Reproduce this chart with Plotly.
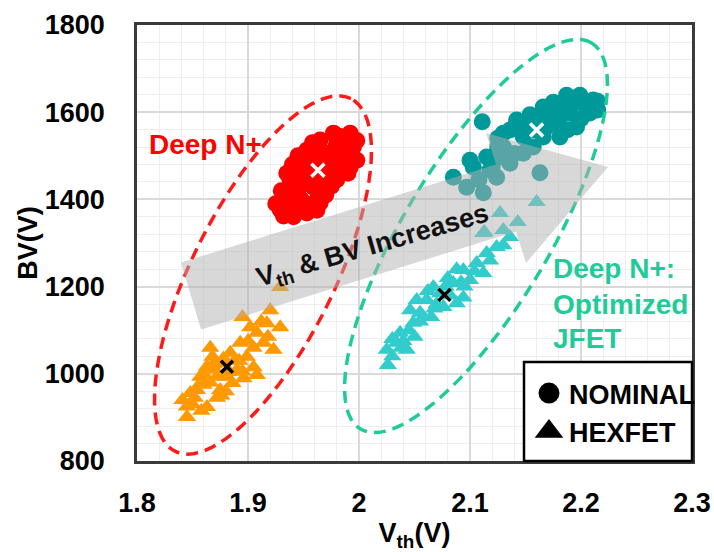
import numpy as np
import plotly.graph_objects as go

# ---------------- data ----------------
red_vth = [1.992,1.977,1.965,1.953,1.998,1.989,1.983,1.944,1.971,1.962,1.935,1.929,1.941,1.953,1.965,1.944,1.950,1.959,1.971,1.980,
           1.992,1.971,1.959,1.938,1.960,1.975,1.985,1.990,1.950,1.945,1.955,1.935,1.970,1.980,1.995,1.965,1.950,1.940,1.925,1.985,
           1.958,1.945,1.935,1.930,1.948,1.962,1.975,1.990,1.982,1.998,1.940,1.955,1.968,1.978,1.932]
red_bv  = [1552,1552,1536,1513,1490,1513,1461,1461,1428,1399,1422,1376,1360,1369,1392,1405,1444,1483,1497,1529,
           1474,1461,1428,1444,1450,1485,1500,1540,1470,1420,1385,1395,1410,1445,1520,1515,1490,1380,1390,1480,
           1530,1500,1460,1420,1400,1375,1430,1460,1545,1535,1480,1440,1490,1515,1362]

orange_vth = [1.929,1.920,1.895,1.929,1.923,1.908,1.877,1.848,1.845,1.863,1.886,1.899,1.908,1.914,1.857,1.868,1.893,1.875,
              1.863,1.890,1.902,1.917,1.841,1.881,1.854,1.872,1.884,1.870,1.860,1.895,1.905,1.850,1.880,1.866,1.888,
              1.852,1.858,1.866,1.878,1.892,1.900,1.912,1.918,1.872,1.845,1.860,1.896,1.905,1.869,1.883,1.857,1.876]
orange_bv  = [1199,1146,1130,1107,1055,997,1025,956,901,924,979,1039,1094,1071,993,1039,1071,963,
              1016,1009,1107,1116,940,993,963,993,1048,1010,975,1005,1060,930,960,1060,1030,
              945,915,980,1035,1030,1075,1120,1085,945,925,1000,990,1015,1022,1004,978,950]

teal_vth = [2.211,2.199,2.187,2.175,2.166,2.154,2.142,2.136,2.181,2.196,2.208,2.190,2.169,2.181,2.157,2.148,2.130,2.111,2.166,
            2.202,2.193,2.115,2.103,2.085,2.097,2.112,2.124,2.136,2.148,2.157,2.163,2.130,2.118,2.127,2.215,2.178,2.160,2.145,
            2.205,2.185,2.170,2.150,2.140,2.175,2.200,2.188,2.160,2.125,2.215,2.100,2.120,2.140,2.108,2.125]
teal_bv  = [1628,1639,1639,1623,1612,1594,1582,1559,1543,1566,1598,1598,1566,1589,1559,1543,1552,1578,1543,
            1621,1621,1497,1474,1451,1428,1415,1451,1483,1506,1520,1461,1520,1467,1497,1605,1610,1580,1570,
            1610,1615,1600,1575,1565,1575,1585,1560,1590,1540,1625,1490,1475,1505,1445,1520]

cyan_vth = [2.026,2.025,2.043,2.037,2.049,2.046,2.061,2.067,2.076,2.088,2.085,2.094,2.100,2.106,2.115,2.124,2.136,2.112,
            2.058,2.034,2.073,2.052,2.112,2.127,2.143,2.130,2.160,2.113,2.040,2.055,2.070,2.080,2.095,2.065,2.030,
            2.045,2.055,2.068,2.082,2.092,2.104,2.118,2.130,2.038,2.050,2.062,2.078,2.094,2.088,2.030]
cyan_bv  = [1020,1055,1055,1094,1117,1146,1169,1199,1153,1162,1208,1238,1215,1254,1277,1291,1314,1231,
            1130,1071,1185,1169,1323,1369,1348,1330,1394,1325,1075,1140,1160,1220,1200,1130,1040,
            1100,1120,1150,1180,1210,1235,1260,1295,1060,1085,1190,1200,1175,1240,1080]

mean_white_vth = [1.963, 2.160]
mean_white_bv = [1467, 1559]
mean_black_vth = [1.881, 2.077]
mean_black_bv = [1016, 1181]

legend_names = ["NOMINAL", "HEXFET"]

# ---------------- layout geometry ----------------
FW, FH = 714, 552
L, T, W, H = 137, 25, 555, 436
FONT = "Liberation Sans, Arial, sans-serif"


def pp(x, y):
    """pixel -> paper coordinates"""
    return (x - L) / W, (T + H - y) / H


def ellipse_path(cx, cy, a, b, deg, n=90):
    th = np.deg2rad(deg)
    pts = []
    for t in np.linspace(0, 2 * np.pi, n):
        x = cx + a * np.cos(th) * np.cos(t) - b * np.sin(th) * np.sin(t)
        y = cy - (a * np.sin(th) * np.cos(t) + b * np.cos(th) * np.sin(t))
        pts.append(pp(x, y))
    return "M " + " L ".join(f"{px:.5f},{py:.5f}" for px, py in pts) + " Z"


def poly_path(points):
    q = [pp(x, y) for x, y in points]
    return "M " + " L ".join(f"{a:.5f},{b:.5f}" for a, b in q) + " Z"


fig = go.Figure()

fig.add_trace(go.Scatter(x=red_vth, y=red_bv, mode="markers", showlegend=False,
                         marker=dict(symbol="circle", size=17, color="#ff0000")))
fig.add_trace(go.Scatter(x=orange_vth, y=orange_bv, mode="markers", showlegend=False,
                         marker=dict(symbol="triangle-up", size=16, color="#ff9900")))
fig.add_trace(go.Scatter(x=teal_vth, y=teal_bv, mode="markers", showlegend=False,
                         marker=dict(symbol="circle", size=17, color="#009999")))
fig.add_trace(go.Scatter(x=cyan_vth, y=cyan_bv, mode="markers", showlegend=False,
                         marker=dict(symbol="triangle-up", size=16, color="#33cccc")))
fig.add_trace(go.Scatter(x=mean_white_vth, y=mean_white_bv, mode="markers", showlegend=False,
                         marker=dict(symbol="x-thin", size=13, line=dict(color="white", width=3.5))))
fig.add_trace(go.Scatter(x=mean_black_vth, y=mean_black_bv, mode="markers", showlegend=False,
                         marker=dict(symbol="x-thin", size=12, line=dict(color="black", width=3.5))))

# legend entries
fig.add_trace(go.Scatter(x=[None], y=[None], mode="markers", name=legend_names[0],
                         marker=dict(symbol="circle", size=16, color="black", line=dict(color="black", width=5))))
fig.add_trace(go.Scatter(x=[None], y=[None], mode="markers", name=legend_names[1],
                         marker=dict(symbol="triangle-up", size=16, color="black", line=dict(color="black", width=5))))

shapes = []
# dashed ellipses
shapes.append(dict(type="path", xref="paper", yref="paper", layer="above",
                   path=ellipse_path(263, 275, 197, 71, 63.5),
                   line=dict(color="#ff1a1a", width=3.5, dash="12px,7px")))
shapes.append(dict(type="path", xref="paper", yref="paper", layer="above",
                   path=ellipse_path(476, 236, 225, 73, 59.1),
                   line=dict(color="#1fcc99", width=3.5, dash="12px,7px")))
# gray arrow
arrow_pts = [(181, 262.5), (496, 164.5), (486, 133), (608, 167), (526, 263), (516, 231.5), (201, 329.5)]
shapes.append(dict(type="path", xref="paper", yref="paper", layer="above",
                   path=poly_path(arrow_pts), fillcolor="rgba(178,178,178,0.5)",
                   line=dict(width=0)))
# legend box
x0, y0 = pp(524, 362)
x1, y1 = pp(692, 461)
shapes.append(dict(type="rect", xref="paper", yref="paper", layer="above",
                   x0=x0, y0=y1, x1=x1, y1=y0, fillcolor="white",
                   line=dict(color="black", width=2.5)))

annotations = []


def ann(text, x, y, color, size, xanchor="left", angle=0):
    px, py = pp(x, y)
    annotations.append(dict(text=text, x=px, y=py, xref="paper", yref="paper",
                            xanchor=xanchor, yanchor="middle", showarrow=False,
                            textangle=angle, font=dict(family=FONT, size=size, color=color)))


ann("<b>Deep N+</b>", 147, 144, "#ff0000", 28)
ann("<b>Deep N+:</b>", 551, 268, "#1fcc99", 28)
ann("<b>Optimized</b>", 551, 304, "#1fcc99", 28)
ann("<b>JFET</b>", 551, 338, "#1fcc99", 28)
ann("<b>V<sub>th</sub> &amp; BV Increases</b>", 373, 247, "#111111", 27, xanchor="center", angle=-16)

lx, ly = pp(529, 369)

fig.update_layout(
    width=FW, height=FH,
    margin=dict(l=L, r=FW - L - W, t=T, b=FH - T - H, autoexpand=False),
    paper_bgcolor="white", plot_bgcolor="white",
    font=dict(family=FONT, color="black"),
    shapes=shapes, annotations=annotations,
    showlegend=True,
    legend=dict(x=lx, y=ly, xanchor="left", yanchor="top", bgcolor="rgba(0,0,0,0)",
                borderwidth=0, font=dict(family=FONT, size=27, color="black", weight="bold"),
                tracegroupgap=0, itemsizing="trace"),
    xaxis=dict(range=[1.8, 2.3], dtick=0.1, tick0=1.8, showgrid=True, gridcolor="#d9d9d9", gridwidth=1.5,
               minor=dict(dtick=0.02, showgrid=True, gridcolor="#eeeeee", gridwidth=1),
               showline=True, mirror=True, linecolor="#3a3a3a", linewidth=2.5, ticks="",
               zeroline=False, ticklabelstandoff=16, automargin=False,
               tickfont=dict(family=FONT, size=27, color="black", weight="bold"),
               title=dict(text="<b>V<sub>th</sub>(V)</b>", standoff=17,
                          font=dict(family=FONT, size=27, color="black"))),
    yaxis=dict(range=[800, 1800], dtick=200, tick0=800, showgrid=True, gridcolor="#d9d9d9", gridwidth=1.5,
               minor=dict(dtick=40, showgrid=True, gridcolor="#eeeeee", gridwidth=1),
               showline=True, mirror=True, linecolor="#3a3a3a", linewidth=2.5, ticks="",
               zeroline=False, ticklabelstandoff=24, automargin=False,
               tickfont=dict(family=FONT, size=27, color="black", weight="bold"),
               title=dict(text="<b>BV(V)</b>", standoff=0,
                          font=dict(family=FONT, size=27, color="black"))),
)

fig.write_html("out.html")
